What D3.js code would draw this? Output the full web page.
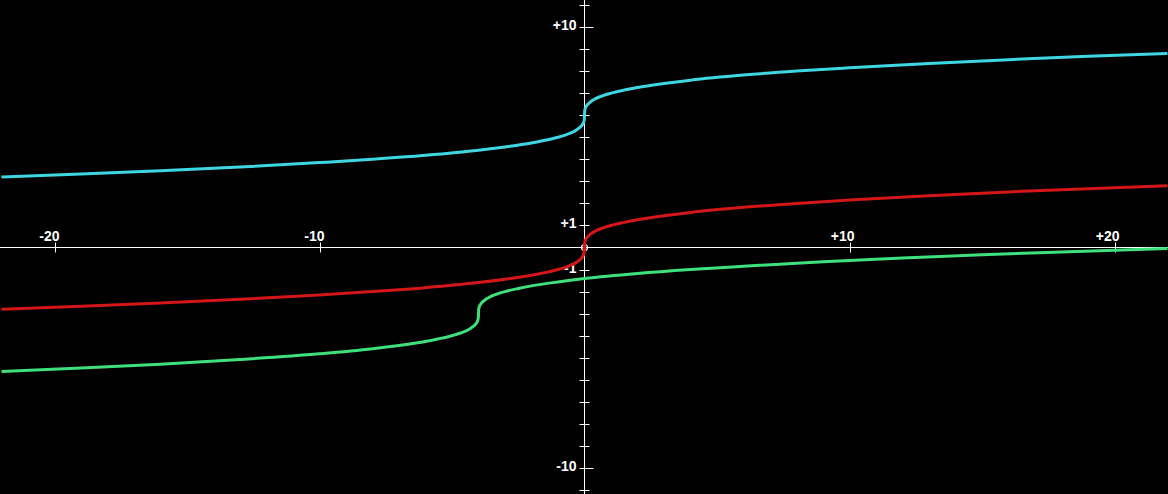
<!DOCTYPE html>
<meta charset="utf-8">
<script src="https://d3js.org/d3.v7.min.js"></script>
<style>
  body { margin: 0; background: #000; }
  text { font-family: "Liberation Sans", Arial, sans-serif; font-weight: bold; font-size: 14px; fill: #fff; }
</style>
<div id="my_dataviz"></div>
<script>

var redX  = [-22, -19, -16, -13, -10, -8, -6, -4, -3, -2, -1.5, -1, -0.7, -0.4, -0.2, -0.1, -0.05, -0.01, 0,
             0.01, 0.05, 0.1, 0.2, 0.4, 0.7, 1, 1.5, 2, 3, 4, 6, 8, 10, 13, 16, 19, 22];
var redY  = [-2.80, -2.67, -2.52, -2.35, -2.15, -2.00, -1.82, -1.59, -1.44, -1.26, -1.14, -1.00, -0.89, -0.74, -0.58, -0.46, -0.37, -0.22, 0,
             0.22, 0.37, 0.46, 0.58, 0.74, 0.89, 1.00, 1.14, 1.26, 1.44, 1.59, 1.82, 2.00, 2.15, 2.35, 2.52, 2.67, 2.80];
var cyanX = redX;
var cyanY = [3.20, 3.33, 3.48, 3.65, 3.85, 4.00, 4.18, 4.41, 4.56, 4.74, 4.86, 5.00, 5.11, 5.26, 5.42, 5.54, 5.63, 5.78, 6.00,
             6.22, 6.37, 6.46, 6.58, 6.74, 6.89, 7.00, 7.14, 7.26, 7.44, 7.59, 7.82, 8.00, 8.15, 8.35, 8.52, 8.67, 8.80];
var greenX = [-22, -19, -16, -13, -10, -8, -7, -6, -5.5, -5, -4.7, -4.4, -4.2, -4.1, -4.05, -4.01, -4,
              -3.99, -3.95, -3.9, -3.8, -3.6, -3.3, -3, -2.5, -2, -1, 0, 2, 4, 6, 9, 12, 15, 18, 22];
var greenY = [-5.62, -5.47, -5.29, -5.08, -4.82, -4.59, -4.44, -4.26, -4.14, -4.00, -3.89, -3.74, -3.58, -3.46, -3.37, -3.22, -3.00,
              -2.78, -2.63, -2.54, -2.42, -2.26, -2.11, -2.00, -1.86, -1.74, -1.56, -1.41, -1.18, -1.00, -0.85, -0.65, -0.48, -0.33, -0.20, -0.04];

var xTicks = [-20, -10, 10, 20];
var xTickLabels = ["-20", "-10", "+10", "+20"];
var yTicks = d3.range(-11, 12).filter(function(d){ return d !== 0; });
var yLabelTicks = [10, 1, -1, -10];
var yTickLabels = ["+10", "+1", "-1", "-10"];

var width = 1168, height = 494;

var svg = d3.select("#my_dataviz")
  .append("svg")
    .attr("width", width)
    .attr("height", height)
    .style("display", "block")
    .style("background", "#000");

var x = d3.scaleLinear().domain([-10, 10]).range([584.5 - 265, 584.5 + 265]);
var y = d3.scaleLinear().domain([-10, 10]).range([247.5 + 220.5, 247.5 - 220.5]);

var x0 = x(0), y0 = y(0);

// axis lines
svg.append("line")
  .attr("x1", 0).attr("x2", width)
  .attr("y1", y0).attr("y2", y0)
  .attr("stroke", "#fff").attr("stroke-width", 1);
svg.append("line")
  .attr("x1", x0).attr("x2", x0)
  .attr("y1", 0).attr("y2", height)
  .attr("stroke", "#fff").attr("stroke-width", 1);

// x ticks (cross the axis)
svg.selectAll("xtick")
  .data(xTicks)
  .enter()
  .append("line")
    .attr("x1", function(d){ return Math.round(x(d)) + 0.5; })
    .attr("x2", function(d){ return Math.round(x(d)) + 0.5; })
    .attr("y1", y0 - 5).attr("y2", y0 + 5)
    .attr("stroke", "#fff");

svg.selectAll("xlabel")
  .data(xTicks)
  .enter()
  .append("text")
    .attr("x", function(d){ return x(d) + 5; })
    .attr("y", y0 - 7)
    .attr("text-anchor", "end")
    .text(function(d, i){ return xTickLabels[i]; });

// y ticks, the +-10 ones a bit longer
svg.selectAll("ytick")
  .data(yTicks)
  .enter()
  .append("line")
    .attr("x1", x0 - 5)
    .attr("x2", function(d){ return Math.abs(d) === 10 ? x0 + 9 : x0 + 5; })
    .attr("y1", function(d){ return Math.round(y(d)) + 0.5; })
    .attr("y2", function(d){ return Math.round(y(d)) + 0.5; })
    .attr("stroke", "#fff");

svg.selectAll("ylabel")
  .data(yLabelTicks)
  .enter()
  .append("text")
    .attr("x", x0 - 8)
    .attr("y", function(d){ return y(d) + 3; })
    .attr("text-anchor", "end")
    .text(function(d, i){ return yTickLabels[i]; });

// origin marker
svg.append("circle")
  .attr("cx", x0).attr("cy", y0).attr("r", 3)
  .attr("fill", "none").attr("stroke", "#fff").attr("stroke-width", 1.2);

// curves
var line = d3.line()
  .x(function(d){ return x(d[0]); })
  .y(function(d){ return y(d[1]); })
  .curve(d3.curveMonotoneX);

var series = [
  { xs: cyanX,  ys: cyanY,  color: "#3ed6e2" },
  { xs: greenX, ys: greenY, color: "#3ee07c" },
  { xs: redX,   ys: redY,   color: "#d41616" }
];

svg.selectAll("curve")
  .data(series)
  .enter()
  .append("path")
    .attr("d", function(s){ return line(d3.zip(s.xs, s.ys)); })
    .attr("fill", "none")
    .attr("stroke", function(s){ return s.color; })
    .attr("stroke-width", 3);

</script>
